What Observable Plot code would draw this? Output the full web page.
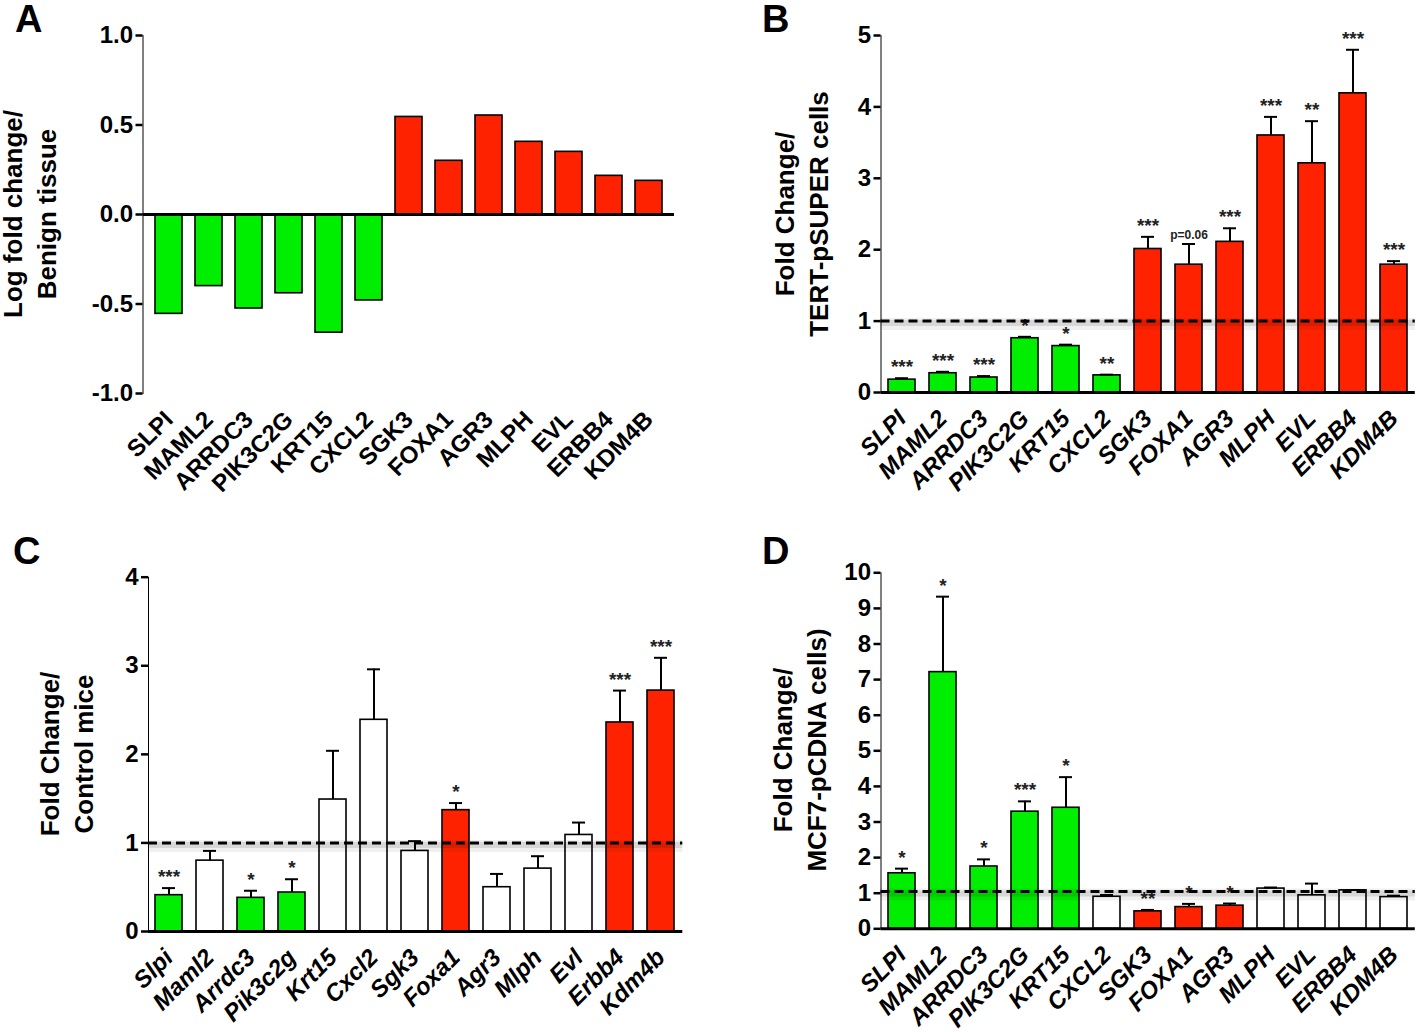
<!DOCTYPE html>
<html><head><meta charset="utf-8">
<script src="https://cdn.jsdelivr.net/npm/d3@7"></script>
<script src="https://cdn.jsdelivr.net/npm/@observablehq/plot@0.6"></script>
<style>
body{margin:0;background:#fff;width:1418px;height:1032px;position:relative;overflow:hidden;font-family:"Liberation Sans",Arial,sans-serif;}
.q{position:absolute;width:709px;height:516px;}
.q svg{overflow:visible}
.q svg text{font-weight:bold}
.letter{position:absolute;font:bold 38px "Liberation Sans",Arial,sans-serif;line-height:1;}
.ytitle{position:absolute;font:bold 26px "Liberation Sans",Arial,sans-serif;line-height:34px;white-space:pre;text-align:center;transform:translate(-50%,-50%) rotate(-90deg);}
.q [aria-label^="x-axis"] text{font-size:24px;fill:#000}
.q [aria-label^="y-axis"] text{font-size:24px;fill:#000}
.ital [aria-label^="x-axis"] text{font-style:italic}
.q [aria-label^="y-axis"] path,.q [aria-label^="y-axis"] line{stroke-width:2.5px}
</style>
</head><body>
<script>
// ---- data ----
const genesHuman = ["SLPI","MAML2","ARRDC3","PIK3C2G","KRT15","CXCL2","SGK3","FOXA1","AGR3","MLPH","EVL","ERBB4","KDM4B"];
const genesMouse = ["Slpi","Maml2","Arrdc3","Pik3c2g","Krt15","Cxcl2","Sgk3","Foxa1","Agr3","Mlph","Evl","Erbb4","Kdm4b"];

const logFoldA = [-0.555,-0.40,-0.525,-0.44,-0.66,-0.48,0.545,0.30,0.553,0.406,0.35,0.216,0.188];
const groupsA = ["down","down","down","down","down","down","up","up","up","up","up","up","up"];

const foldB = [0.18,0.27,0.21,0.76,0.65,0.24,2.01,1.79,2.11,3.60,3.21,4.19,1.79];
const errTopB = [0.20,0.29,0.23,0.78,0.67,0.25,2.18,2.08,2.30,3.86,3.80,4.80,1.84];
const sigB = ["***","***","***","*","*","**","***","p=0.06","***","***","**","***","***"];
const groupsB = ["down","down","down","down","down","down","up","up","up","up","up","up","up"];

const foldC = [0.41,0.80,0.38,0.44,1.49,2.39,0.91,1.37,0.50,0.71,1.09,2.36,2.72];
const errTopC = [0.49,0.91,0.46,0.59,2.04,2.96,1.02,1.45,0.65,0.85,1.23,2.72,3.09];
const sigC = ["***","","*","*","","","","*","","","","***","***"];
const groupsC = ["down","ns","down","down","ns","ns","ns","up","ns","ns","ns","up","up"];

const foldD = [1.56,7.21,1.75,3.29,3.40,0.90,0.49,0.61,0.65,1.13,0.94,1.08,0.89];
const errTopD = [1.69,9.33,1.95,3.58,4.26,0.95,0.53,0.70,0.71,1.16,1.27,1.09,0.93];
const sigD = ["*","*","*","***","*","","**","*","*","","","",""];
const groupsD = ["down","down","down","down","down","ns","up","up","up","ns","ns","ns","ns"];

const ticksA = [-1, -0.5, 0, 0.5, 1];
const ticksB = [0,1,2,3,4,5];
const ticksC = [0,1,2,3,4];
const ticksD = [0,1,2,3,4,5,6,7,8,9,10];

const groupColor = {down:"#00ee00", up:"#ff2200", ns:"#ffffff"};

function rows(genes, values, errs, sigs, groups){
  return genes.map((g,i)=>({gene:g, value:values[i], err: errs?errs[i]:null, sig: sigs?sigs[i]:"", group:groups[i]}));
}

const QW=709, QH=516;
function panel(cfg){
  const data = rows(cfg.genes, cfg.values, cfg.errs, cfg.sigs, cfg.groups);
  const marks = [
    Plot.barY(data,{x:"gene", y1:0, y2:"value", fill:d=>groupColor[d.group], stroke:"#000", strokeWidth:1.6})
  ];
  if (cfg.errs){
    marks.push(Plot.ruleX(data,{x:"gene", y1:"value", y2:"err", stroke:"#000", strokeWidth:2}));
    marks.push(Plot.tickY(data,{x:"gene", y:"err", stroke:"#000", strokeWidth:2, insetLeft:7, insetRight:7}));
    marks.push(Plot.text(data.filter(d=>d.sig),{x:"gene", y:"err", text:"sig", dy:-5, lineAnchor:"bottom", fill:"#222", fontWeight:"normal", fontSize:d=>d.sig.length>3?12:19}));
  }
  if (cfg.ref!=null){
    marks.push(Plot.ruleY([cfg.ref],{stroke:"#000", strokeOpacity:0.06, strokeWidth:12, dy:3}));
    marks.push(Plot.ruleY([cfg.ref],{stroke:"#000", strokeOpacity:0.1, strokeWidth:6, dy:2}));
    marks.push(Plot.ruleY([cfg.ref],{stroke:"#000", strokeWidth:3, strokeDasharray:"9,5"}));
  }
  marks.push(Plot.ruleY([0],{stroke:"#000", strokeWidth:3}));
  const f = cfg.frame;
  return Plot.plot({
    width:QW, height:QH,
    marginLeft:f.left, marginRight:QW-f.right, marginTop:f.top, marginBottom:QH-f.bottom,
    style:{fontFamily:'"Liberation Sans", Arial, sans-serif', fontSize:"24px", fontWeight:"bold", background:"transparent", color:"#000", overflow:"visible"},
    color:{type:"identity"},
    x:{domain:cfg.genes, paddingInner:0.33, paddingOuter:0.165, label:null, tickSize:0, tickRotate:-45, tickPadding:22},
    y:{domain:cfg.domain, ticks:cfg.ticks, tickFormat:cfg.fmt, label:null, tickSize:7, tickPadding:3, line:true},
    marks
  });
}

function place(svg, x, y, cls){
  const d = document.createElement("div");
  d.className = "q" + (cls?(" "+cls):"");
  d.style.left = x+"px"; d.style.top = y+"px";
  d.appendChild(svg);
  document.body.appendChild(d);
}
function label(text, x, y){
  const d=document.createElement("div"); d.className="letter"; d.textContent=text;
  d.style.left=x+"px"; d.style.top=y+"px"; document.body.appendChild(d);
}
function ytitle(text, cx, cy){
  const d=document.createElement("div"); d.className="ytitle"; d.textContent=text;
  d.style.left=cx+"px"; d.style.top=cy+"px"; document.body.appendChild(d);
}

place(panel({genes:genesHuman, values:logFoldA, groups:groupsA, domain:[-1,1], ticks:ticksA, fmt:d=>d.toFixed(1),
  frame:{left:142.5, right:674, top:35, bottom:393}}), 0, 0);
place(panel({genes:genesHuman, values:foldB, errs:errTopB, sigs:sigB, groups:groupsB, domain:[0,5], ticks:ticksB, fmt:d=>String(d), ref:1,
  frame:{left:171.5, right:705.8, top:35, bottom:392}}), 709, 0, "ital");
place(panel({genes:genesMouse, values:foldC, errs:errTopC, sigs:sigC, groups:groupsC, domain:[0,4], ticks:ticksC, fmt:d=>String(d), ref:1,
  frame:{left:148, right:682.3, top:60.7, bottom:415}}), 0, 516, "ital");
place(panel({genes:genesHuman, values:foldD, errs:errTopD, sigs:sigD, groups:groupsD, domain:[0,10], ticks:ticksD, fmt:d=>String(d), ref:1.05,
  frame:{left:171.5, right:705.8, top:56.3, bottom:412.3}}), 709, 516, "ital");

label("A", 15, 0); label("B", 762, 0); label("C", 13, 532); label("D", 762, 532);
ytitle("Log fold change/\nBenign tissue", 29.6, 214);
ytitle("Fold Change/\nTERT-pSUPER cells", 801.6, 213.5);
ytitle("Fold Change/\nControl mice", 66.6, 754);
ytitle("Fold Change/\nMCF7-pCDNA cells)", 799.6, 750);
</script>
</body></html>
